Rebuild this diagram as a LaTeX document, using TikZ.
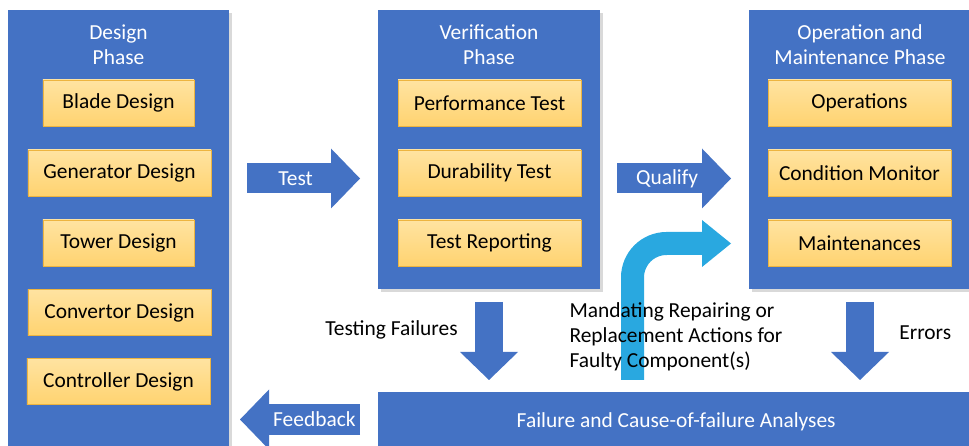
\documentclass[tikz,border=0pt]{standalone}
\usepackage{fontspec}
\setmainfont{Carlito}
\usetikzlibrary{arrows.meta,shadows}

\definecolor{phaseblue}{HTML}{4472C4}
\definecolor{repairblue}{HTML}{29A8E0}
\definecolor{tasktop}{HTML}{FFE3A1}
\definecolor{taskbottom}{HTML}{FFD370}
\definecolor{taskedge}{HTML}{EDB440}

\newcommand{\boxfont}{\fontsize{21.5}{25}\selectfont}

\tikzset{
  phase/.style={fill=phaseblue, anchor=north west, inner sep=0pt, text=white, font=\boxfont,
    drop shadow={shadow xshift=2.5bp, shadow yshift=-2.5bp, opacity=0.3}},
  phasetitle/.style={text=white, align=center, font=\boxfont},
  task/.style={top color=tasktop, bottom color=taskbottom, draw=taskedge, line width=0.8bp,
    minimum height=46bp, minimum width=183bp, inner sep=0pt, font=\boxfont},
  bigarrow/.style={draw=phaseblue, line width=30bp, -{Triangle[length=29bp,width=60bp,line width=0pt]}},
  downarrow/.style={draw=phaseblue, line width=28bp, -{Triangle[length=28bp,width=58bp,line width=0pt]}},
  repairarrow/.style={draw=repairblue, line width=23bp, rounded corners=34bp,
    -{Triangle[length=29bp,width=47bp,line width=0pt]}},
  arrowtext/.style={text=white, font=\boxfont},
  sidetext/.style={text=black, font=\boxfont}
}

\begin{document}
\begin{tikzpicture}[x=1bp, y=-1bp]
  \useasboundingbox (0,0) rectangle (969,446);
  \clip (0,0) rectangle (969,446);

  % the three phases
  \node[phase, minimum width=221bp, minimum height=442bp] (design) at (8,10) {};
  \node[phase, minimum width=222bp, minimum height=279bp] (verify) at (378,10) {};
  \node[phase, minimum width=222bp, minimum height=279bp] (operate) at (749,10) {};
  \node[phasetitle] (designtitle) at (118.5,45) {Design\\Phase};
  \node[phasetitle] (verifytitle) at (489,45) {Verification\\Phase};
  \node[phasetitle] (operatetitle) at (860,45) {Operation and\\Maintenance Phase};

  \node[task, minimum width=151bp] (blade) at (118.5,103) {Blade Design};
  \node[task] (generator) at (119.5,173) {Generator Design};
  \node[task, minimum width=151bp] (tower) at (118.5,243) {Tower Design};
  \node[task] (convertor) at (119.5,312.5) {Convertor Design};
  \node[task] (controller) at (118.5,381.5) {Controller Design};

  \node[task] (performance) at (489.5,103) {Performance Test};
  \node[task] (durability) at (489.5,173) {Durability Test};
  \node[task] (reporting) at (489.5,243) {Test Reporting};

  \node[task] (operations) at (859.5,103) {Operations};
  \node[task] (monitor) at (859.5,173) {Condition Monitor};
  \node[task] (maintenance) at (859.5,243) {Maintenances};

  % analysis bar along the bottom
  \node[phase, minimum width=596bp, minimum height=60bp] (analysis) at (378,392) {Failure and Cause-of-failure Analyses};

  % arrow ends
  \coordinate (test from) at (247,178.5);
  \coordinate (test to) at (360,178.5);
  \coordinate (qualify from) at (617,178.5);
  \coordinate (qualify to) at (731,178.5);
  \coordinate (fail from) at (489,302);
  \coordinate (fail to) at (489,380);
  \coordinate (error from) at (860,302);
  \coordinate (error to) at (860,380);
  \coordinate (feedback from) at (360,419.5);
  \coordinate (feedback to) at (240,419.5);
  \coordinate (repair from) at (632.5,380);
  \coordinate (repair to) at (731,243.5);

  \draw[bigarrow] (test from) -- (test to) node[arrowtext, pos=0.43] (testlabel) {Test};
  \draw[bigarrow] (qualify from) -- (qualify to) node[arrowtext, pos=0.44] (qualifylabel) {Qualify};
  \draw[bigarrow, line width=31bp] (feedback from) -- (feedback to) node[arrowtext, pos=0.38] (feedbacklabel) {Feedback};
  \draw[downarrow] (fail from) -- (fail to) node[sidetext, pos=0.36, left=14bp] (faillabel) {Testing Failures};
  \draw[downarrow] (error from) -- (error to) node[sidetext, pos=0.4, right=22bp] (errorlabel) {Errors};
  \draw[repairarrow] (repair from) |- (repair to);
  \node[sidetext, anchor=north west, align=left] (repairnote) at (566,299) {Mandating Repairing or\\Replacement Actions for\\Faulty Component(s)};
\end{tikzpicture}
\end{document}
